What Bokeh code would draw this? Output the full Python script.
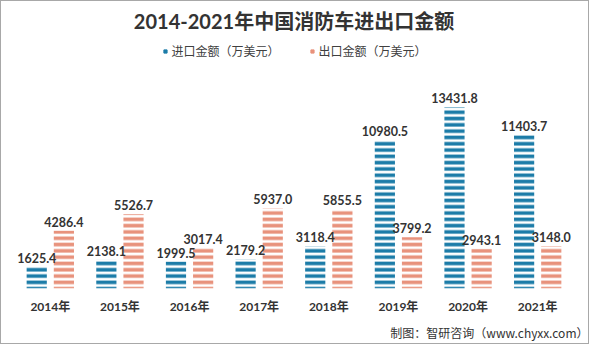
from bokeh.plotting import figure
from bokeh.models import FactorRange, Range1d, ColumnDataSource, Legend, LegendItem, Title
from bokeh.transform import dodge
from bokeh.core.properties import value
from bokeh.embed import file_html
from bokeh.resources import INLINE

years = ["2014年", "2015年", "2016年", "2017年", "2018年", "2019年", "2020年", "2021年"]
imports = [1625.4, 2138.1, 1999.5, 2179.2, 3118.4, 10980.5, 13431.8, 11403.7]
exports = [4286.4, 5526.7, 3017.4, 5937.0, 5855.5, 3799.2, 2943.1, 3148.0]

BLUE = "#1C7CA8"
SALMON = "#E8927C"
FONT = "Lato, 'Noto Sans CJK SC'"

src = ColumnDataSource(dict(
    year=years, imp=imports, exp=exports,
    imp_lbl=["%.1f" % v for v in imports],
    exp_lbl=["%.1f" % v for v in exports],
))

p = figure(width=589, height=344, output_backend="svg", toolbar_location=None,
           x_range=FactorRange(factors=years, range_padding=0),
           y_range=Range1d(0, 18600),
           min_border_left=14, min_border_right=18, min_border_top=9, min_border_bottom=0)
p.styles = {"border": "1px solid #a8a8a8", "box-sizing": "border-box"}
p.title.text = "2014-2021年中国消防车进出口金额"
p.title.align = "center"
p.title.text_font = FONT
p.title.text_font_size = "20px"
p.title.text_font_style = "bold"
p.title.text_color = "#333333"

p.vbar(x=dodge("year", -0.195, range=p.x_range), top="imp", width=0.29, source=src,
       fill_color="white", line_color=None, hatch_pattern="horizontal_line",
       hatch_color=BLUE, hatch_weight=3.6, hatch_scale=6.3)
p.vbar(x=dodge("year", 0.195, range=p.x_range), top="exp", width=0.29, source=src,
       fill_color="white", line_color=None, hatch_pattern="horizontal_line",
       hatch_color=SALMON, hatch_weight=3.6, hatch_scale=6.3)

p.text(x=dodge("year", -0.195, range=p.x_range), y="imp", text="imp_lbl", source=src,
       text_align="center", text_baseline="bottom", y_offset=-4,
       text_font=value("Lato"), text_font_size="12.5px", text_font_style="bold",
       text_color="#333333")
p.text(x=dodge("year", 0.195, range=p.x_range), y="exp", text="exp_lbl", source=src,
       text_align="center", text_baseline="bottom", y_offset=-4,
       text_font=value("Lato"), text_font_size="12.5px", text_font_style="bold",
       text_color="#333333")

r1 = p.scatter(x=[years[0]], y=[-9000], marker="square", size=6, color=BLUE)
r2 = p.scatter(x=[years[0]], y=[-9000], marker="square", size=6, color=SALMON)
legend = Legend(items=[LegendItem(label="进口金额（万美元）", renderers=[r1]),
                       LegendItem(label="出口金额（万美元）", renderers=[r2])],
                location="top_center", orientation="horizontal",
                border_line_color=None, background_fill_alpha=0,
                label_text_font="Noto Sans CJK SC", label_text_font_size="12px",
                label_text_color="#404040", glyph_width=8, glyph_height=8,
                spacing=28, margin=5, padding=4, label_standoff=3)
p.add_layout(legend)

p.yaxis.visible = False
p.xgrid.visible = False
p.ygrid.visible = False
p.outline_line_color = None
p.xaxis.axis_line_color = None
p.xaxis.major_tick_line_color = None
p.xaxis.minor_tick_line_color = None
p.xaxis.major_label_text_font = FONT
p.xaxis.major_label_text_font_size = "12px"
p.xaxis.major_label_text_font_style = "bold"
p.xaxis.major_label_text_color = "#333333"
p.xaxis.major_label_standoff = 4

p.add_layout(Title(text="制图：智研咨询（www.chyxx.com）", align="right", offset=-16,
                   text_font="Noto Sans CJK SC", text_font_size="12px",
                   text_font_style="normal", text_color="#333333"), "below")

open("out.html", "w").write(file_html(p, INLINE))
